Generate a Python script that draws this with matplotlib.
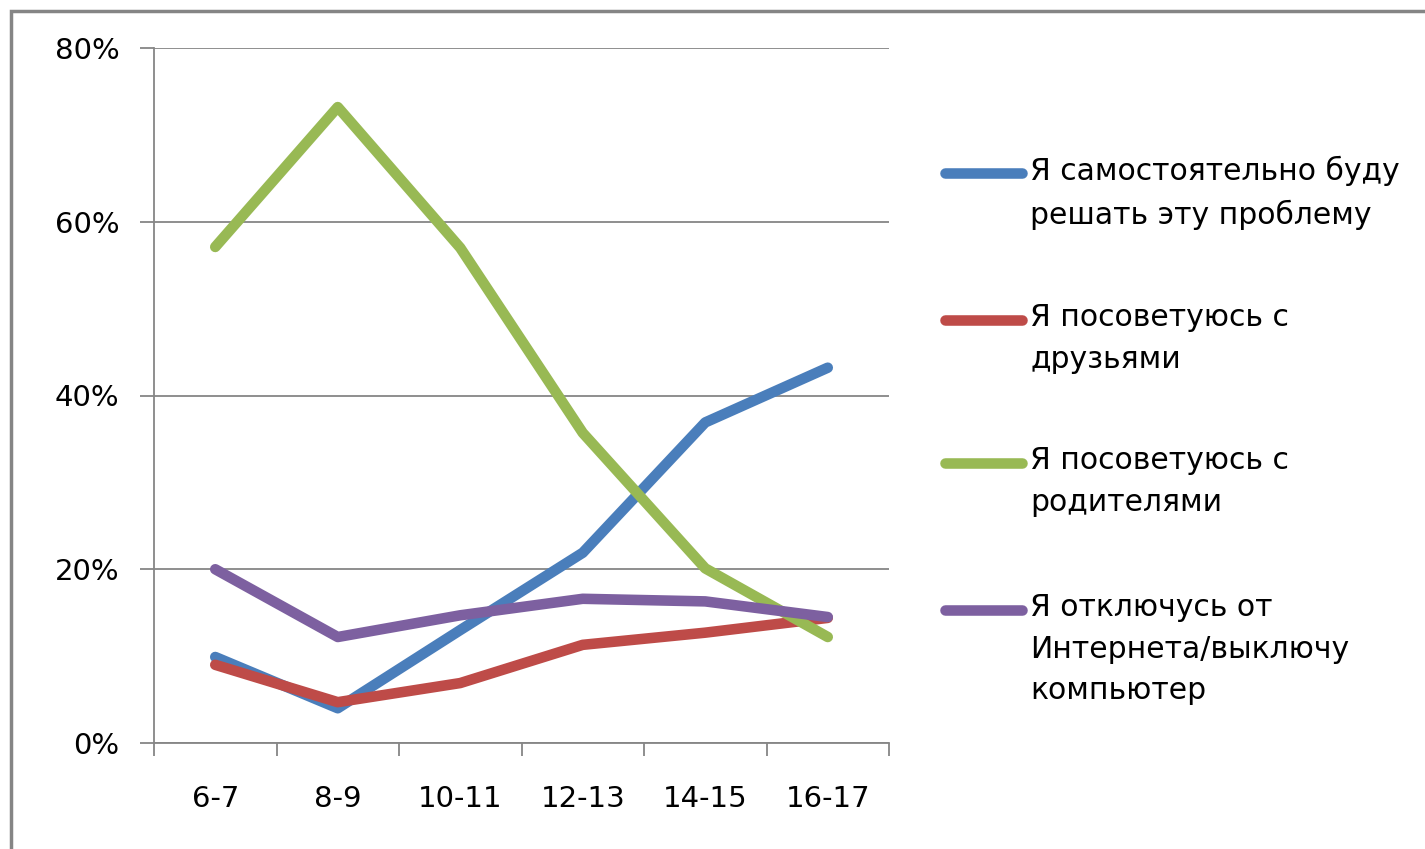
import matplotlib

matplotlib.use("Agg")

import matplotlib.pyplot as plt
from matplotlib.lines import Line2D
from matplotlib.patches import Rectangle
from matplotlib.ticker import FixedLocator, FuncFormatter

AGE_GROUPS = ["6-7", "8-9", "10-11", "12-13", "14-15", "16-17"]

SELF_SOLVE = [9.9, 4.0, 13.0, 21.9, 36.9, 43.2]
ASK_FRIENDS = [9.0, 4.7, 6.9, 11.3, 12.7, 14.4]
ASK_PARENTS = [57.1, 73.2, 57.0, 35.7, 20.1, 12.2]
DISCONNECT = [20.0, 12.2, 14.7, 16.6, 16.3, 14.5]

SERIES_LABELS = [
    "Я самостоятельно буду\nрешать эту проблему",
    "Я посоветуюсь с\nдрузьями",
    "Я посоветуюсь с\nродителями",
    "Я отключусь от\nИнтернета/выключу\nкомпьютер",
]
SERIES_COLORS = ["#4a7ebb", "#be4b48", "#98b954", "#7d60a0"]

GRAY = "#868686"

plt.rcParams["font.family"] = ["DejaVu Sans"]

fig = plt.figure(figsize=(14.25, 8.49), dpi=100)
ax = fig.add_axes([154 / 1425, 1 - 743 / 849, 735 / 1425, 695 / 849])

x = list(range(len(AGE_GROUPS)))
all_series = [SELF_SOLVE, ASK_FRIENDS, ASK_PARENTS, DISCONNECT]
for values, color in zip(all_series, SERIES_COLORS):
    ax.plot(x, values, color=color, linewidth=7.6,
            solid_capstyle="round", solid_joinstyle="round", zorder=3)

ax.set_xlim(-0.5, len(AGE_GROUPS) - 0.5)
ax.set_ylim(0, 80)

ax.set_xticks(x, labels=AGE_GROUPS)
ax.xaxis.set_minor_locator(FixedLocator([i - 0.5 for i in range(len(AGE_GROUPS) + 1)]))
ax.tick_params(axis="x", which="major", length=0, pad=30, labelsize=21)
ax.tick_params(axis="x", which="minor", length=9, width=1.3, color=GRAY)

ax.set_yticks([0, 20, 40, 60, 80])
ax.yaxis.set_major_formatter(FuncFormatter(lambda v, _: f"{v:.0f}%"))
ax.tick_params(axis="y", length=10, width=1.3, color=GRAY, pad=15, labelsize=21)
ax.grid(axis="y", color=GRAY, linewidth=1.3)
ax.set_axisbelow(True)

for side in ("top", "right"):
    ax.spines[side].set_visible(False)
for side in ("left", "bottom"):
    ax.spines[side].set_color(GRAY)
    ax.spines[side].set_linewidth(1.3)

# legend drawn by hand so the marker sits on the first line of each label
legend_rows = [173, 320, 463, 610]
for row, label, color in zip(legend_rows, SERIES_LABELS, SERIES_COLORS):
    yf = 1 - row / 849
    fig.add_artist(Line2D([945 / 1425, 1022 / 1425], [yf, yf], color=color,
                          linewidth=7.6, solid_capstyle="round",
                          transform=fig.transFigure))
    fig.text(1030 / 1425, yf + 17 / 849, label, ha="left", va="top",
             fontsize=21.5, linespacing=1.55)

# chart frame (cut off at the right and bottom edges)
fig.add_artist(Rectangle((10.5 / 1425, -0.1), 1.2, 1.1 - 10.5 / 849,
                         transform=fig.transFigure, fill=False,
                         edgecolor="#858585", linewidth=2.5))

fig.savefig("out.png", dpi=100)
